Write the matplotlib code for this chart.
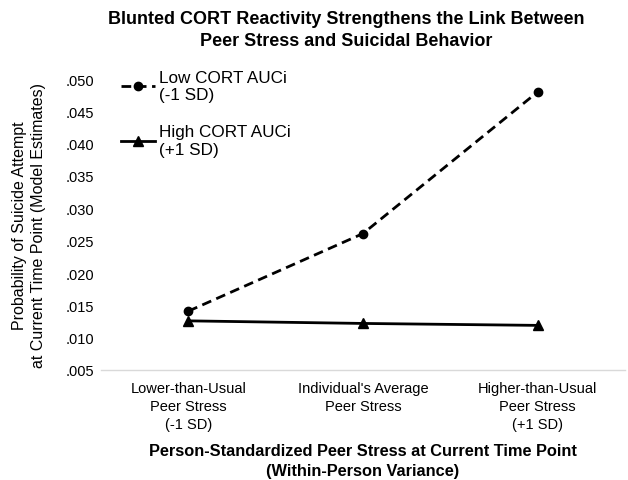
import matplotlib
matplotlib.use("Agg")
import matplotlib.pyplot as plt
from matplotlib.ticker import FuncFormatter

plt.rcParams['font.family'] = ['Liberation Sans', 'DejaVu Sans']

# Data
categories = ["Lower-than-Usual\nPeer Stress\n(-1 SD)",
              "Individual's Average\nPeer Stress",
              "Higher-than-Usual\nPeer Stress\n(+1 SD)"]
low_cort = [0.0141, 0.0261, 0.0480]
high_cort = [0.0126, 0.0122, 0.0119]
yticks = [0.005, 0.010, 0.015, 0.020, 0.025, 0.030, 0.035, 0.040, 0.045, 0.050]

fig = plt.figure(figsize=(6.28, 4.81), dpi=100)
ax = fig.add_axes([101 / 628, 1 - 371 / 481, 524 / 628, 291 / 481])

x = range(len(categories))
ax.plot(x, low_cort, color='black', linestyle=(0, (3.5, 2)), linewidth=2,
        marker='o', markersize=6, label="Low CORT AUCi\n(-1 SD)")
ax.plot(x, high_cort, color='black', linestyle='-', linewidth=2,
        marker='^', markersize=7, label="High CORT AUCi\n(+1 SD)")

ax.set_xlim(-0.5, 2.5)
ax.set_ylim(0.005, 0.050)
ax.set_yticks(yticks)
ax.yaxis.set_major_formatter(FuncFormatter(lambda v, p: ("%.3f" % v).lstrip('0')))
ax.set_xticks(list(x))
ax.set_xticklabels(categories, fontsize=10.5, linespacing=1.35)
ax.tick_params(axis='y', labelsize=10.5, length=0, pad=5)
ax.tick_params(axis='x', length=0, pad=8)

for s in ['top', 'right', 'left']:
    ax.spines[s].set_visible(False)
ax.spines['bottom'].set_color('#d9d9d9')
ax.spines['bottom'].set_linewidth(1)

ax.set_ylabel("Probability of Suicide Attempt\nat Current Time Point (Model Estimates)",
              fontsize=11.5, labelpad=14, linespacing=1.3)
ax.set_xlabel("Person-Standardized Peer Stress at Current Time Point\n(Within-Person Variance)",
              fontsize=11.8, fontweight='bold', labelpad=9, linespacing=1.35)

fig.suptitle("Blunted CORT Reactivity Strengthens the Link Between\nPeer Stress and Suicidal Behavior",
             x=0.551, y=0.978, fontsize=13, fontweight='bold', linespacing=1.45)

leg = ax.legend(loc='upper left', bbox_to_anchor=(0.025, 1.055), frameon=False,
                fontsize=12.3, handlelength=2.0, handletextpad=0.2,
                labelspacing=1.3, borderaxespad=0)

fig.savefig("out.png", dpi=100)
